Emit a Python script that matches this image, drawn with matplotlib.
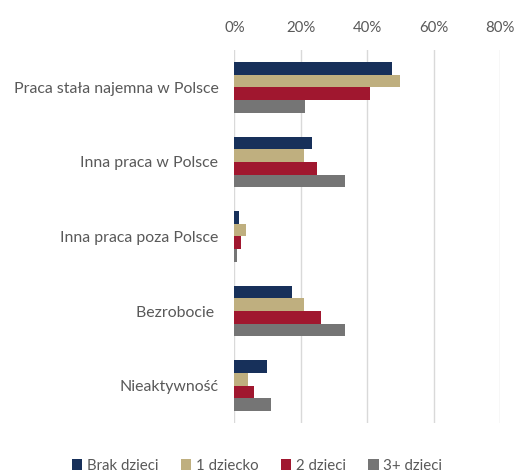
import matplotlib
matplotlib.use("Agg")
import matplotlib.pyplot as plt
import numpy as np

CATEGORIES = [
    "Praca stała najemna w Polsce",
    "Inna praca w Polsce",
    "Inna praca poza Polsce",
    "Bezrobocie ",
    "Nieaktywność",
]
SERIES = ["Brak dzieci", "1 dziecko", "2 dzieci", "3+ dzieci"]
BRAK = [47.6, 23.4, 1.4, 17.3, 9.8]
JEDNO = [49.9, 21.1, 3.5, 21.1, 4.0]
DWOJE = [40.9, 24.8, 2.0, 26.1, 5.8]
TROJE = [21.4, 33.2, 0.7, 33.2, 11.0]
XTICKS = [0, 20, 40, 60, 80]

COLORS = ["#17305A", "#BFAF7F", "#A0172F", "#757575"]
TEXT = "#595959"

plt.rcParams["font.family"] = ["Lato", "DejaVu Sans"]

fig = plt.figure(figsize=(5.14, 4.72), dpi=100)
ax = fig.add_axes([0.456, 0.104, 0.517, 0.790])

values = [BRAK, JEDNO, DWOJE, TROJE]
y = np.arange(len(CATEGORIES))
bar_h = 0.17
for i, (name, vals) in enumerate(zip(SERIES, values)):
    ax.barh(y + (i - 1.5) * bar_h, vals, height=bar_h, color=COLORS[i],
            label=name, zorder=3)

ax.set_ylim(len(CATEGORIES) - 0.5, -0.5)
ax.set_xlim(0, 80)
ax.set_xticks(XTICKS)
ax.set_xticklabels([f"{t}%" for t in XTICKS])
ax.xaxis.tick_top()
ax.set_yticks(y)
ax.set_yticklabels(CATEGORIES)
ax.tick_params(axis="both", length=0, colors=TEXT)
ax.tick_params(axis="x", pad=11, labelsize=10.8)
ax.tick_params(axis="y", pad=11.5, labelsize=11.4)
ax.grid(axis="x", color="#D9D9D9", linewidth=1.0, zorder=0)
for s in ax.spines.values():
    s.set_visible(False)

leg = fig.legend(loc="lower center", bbox_to_anchor=(0.5, -0.03), ncol=4,
                 frameon=False, handlelength=0.7, handleheight=0.7,
                 handletextpad=0.3, columnspacing=1.5, fontsize=10.8)
for t in leg.get_texts():
    t.set_color(TEXT)

fig.savefig("out.png", dpi=100)
